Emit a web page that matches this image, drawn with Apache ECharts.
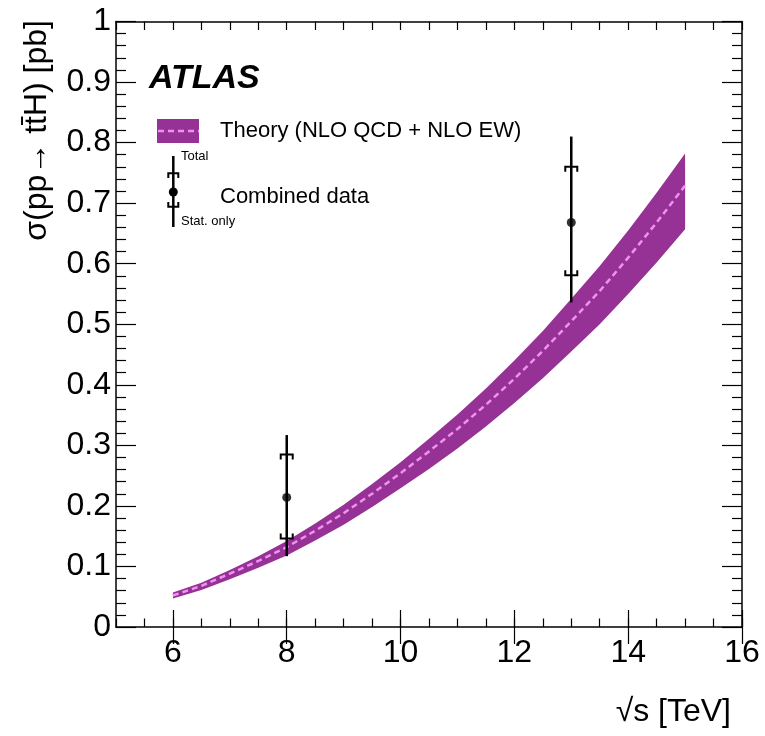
<!DOCTYPE html>
<html>
<head>
<meta charset="utf-8">
<script src="https://cdn.jsdelivr.net/npm/echarts@6/dist/echarts.min.js"></script>
<style>
html,body{margin:0;padding:0;background:#fff;}
#chart{width:765px;height:736px;}
</style>
</head>
<body>
<div id="chart"></div>
<script>
// ---- data ----
const energies       = [6, 6.5, 7, 7.5, 8, 8.5, 9, 9.5, 10, 10.5, 11, 11.5, 12, 12.5, 13, 13.5, 14, 14.5, 15];
const theoryCentral  = [0.052, 0.068, 0.088, 0.109, 0.132, 0.159, 0.188, 0.220, 0.254, 0.290, 0.327, 0.367, 0.410, 0.456, 0.505, 0.555, 0.610, 0.668, 0.729];
const theoryUpper    = [0.057, 0.073, 0.094, 0.117, 0.142, 0.171, 0.202, 0.236, 0.272, 0.311, 0.351, 0.394, 0.440, 0.489, 0.542, 0.596, 0.655, 0.717, 0.782];
const theoryLower    = [0.047, 0.061, 0.079, 0.098, 0.118, 0.143, 0.169, 0.198, 0.229, 0.261, 0.295, 0.331, 0.370, 0.411, 0.455, 0.500, 0.550, 0.602, 0.657];

const dataSqrtS = [8, 13];
const dataXsec  = [0.214, 0.668];
const totalHigh = [0.317, 0.810];
const totalLow  = [0.117, 0.536];
const statHigh  = [0.285, 0.760];
const statLow   = [0.146, 0.581];

const xTickLabels = [6, 8, 10, 12, 14, 16];

// ---- styles ----
const FONT = '"Liberation Sans", Arial, Helvetica, sans-serif';
const PURPLE = '#963296';
const PINK = '#f290f2';

const chart = echarts.init(document.getElementById('chart'), null, {renderer: 'canvas'});

function xAxisBase(pos) {
  return {
    type: 'value', min: 5, max: 16, position: pos,
    splitLine: {show: false},
    axisLine: {show: true, onZero: false, lineStyle: {color: '#000', width: 1.5}},
  };
}
function yAxisBase(pos) {
  return {
    type: 'value', min: 0, max: 1, interval: 0.1, position: pos,
    splitLine: {show: false},
    axisLine: {show: true, onZero: false, lineStyle: {color: '#000', width: 1.5}},
    axisTick: {show: true, inside: true, length: 20, lineStyle: {color: '#000', width: 1.2}},
    minorTick: {show: true, splitNumber: 5, length: 10, lineStyle: {color: '#000', width: 1.2}},
  };
}

const option = {
  animation: false,
  backgroundColor: '#fff',
  grid: {left: 116, right: 23, top: 21.5, bottom: 109, containLabel: false},
  xAxis: [
    Object.assign(xAxisBase('bottom'), {
      interval: 0.5,
      axisTick: {show: true, inside: true, length: 8.5, lineStyle: {color: '#000', width: 1.2}},
      axisLabel: {show: false}
    }),
    Object.assign(xAxisBase('bottom'), {
      axisLine: {show: false},
      axisTick: {show: true, inside: true, length: 17, customValues: xTickLabels, lineStyle: {color: '#000', width: 1.2}},
      axisLabel: {show: true, customValues: xTickLabels, color: '#000', fontSize: 32, fontFamily: FONT, margin: 10}
    }),
    Object.assign(xAxisBase('top'), {
      interval: 0.5,
      axisTick: {show: true, inside: true, length: 8.5, lineStyle: {color: '#000', width: 1.2}},
      axisLabel: {show: false}
    }),
    Object.assign(xAxisBase('top'), {
      axisLine: {show: false},
      axisTick: {show: true, inside: true, length: 17, customValues: xTickLabels, lineStyle: {color: '#000', width: 1.2}},
      axisLabel: {show: false}
    })
  ],
  yAxis: [
    Object.assign(yAxisBase('left'), {
      axisLabel: {show: true, color: '#000', fontSize: 32, fontFamily: FONT, margin: 5}
    }),
    Object.assign(yAxisBase('right'), {
      axisLabel: {show: false}
    })
  ],
  series: [
    {
      name: 'band', type: 'custom', xAxisIndex: 0, yAxisIndex: 0, z: 1,
      data: [[energies[0], theoryCentral[0]]],
      renderItem: function (params, api) {
        const pts = [];
        for (let i = 0; i < energies.length; i++) pts.push(api.coord([energies[i], theoryUpper[i]]));
        for (let i = energies.length - 1; i >= 0; i--) pts.push(api.coord([energies[i], theoryLower[i]]));
        return {type: 'polygon', shape: {points: pts}, style: {fill: PURPLE, stroke: null}};
      }
    },
    {
      name: 'central', type: 'line', xAxisIndex: 0, yAxisIndex: 0, z: 2,
      showSymbol: false, symbol: 'none',
      data: energies.map((e, i) => [e, theoryCentral[i]]),
      lineStyle: {color: PINK, width: 2.5, type: [6, 4]}
    },
    {
      name: 'errors', type: 'custom', xAxisIndex: 0, yAxisIndex: 0, z: 3,
      data: dataSqrtS.map((x, i) => [x, dataXsec[i], totalHigh[i], totalLow[i], statHigh[i], statLow[i]]),
      encode: {x: 0, y: [1, 2, 3, 4, 5]},
      renderItem: function (params, api) {
        const x = api.value(0);
        const th = api.coord([x, api.value(2)]);
        const tl = api.coord([x, api.value(3)]);
        const sh = api.coord([x, api.value(4)]);
        const sl = api.coord([x, api.value(5)]);
        const w = 6, leg = 5;
        const st = {stroke: '#000', lineWidth: 2.5, fill: null};
        const cst = {stroke: '#000', lineWidth: 2, fill: null};
        return {
          type: 'group',
          children: [
            {type: 'line', shape: {x1: th[0], y1: th[1], x2: tl[0], y2: tl[1]}, style: st},
            {type: 'polyline', shape: {points: [[sh[0] - w, sh[1] + leg], [sh[0] - w, sh[1]], [sh[0] + w, sh[1]], [sh[0] + w, sh[1] + leg]]}, style: cst},
            {type: 'polyline', shape: {points: [[sl[0] - w, sl[1] - leg], [sl[0] - w, sl[1]], [sl[0] + w, sl[1]], [sl[0] + w, sl[1] - leg]]}, style: cst}
          ]
        };
      }
    },
    {
      name: 'points', type: 'scatter', xAxisIndex: 0, yAxisIndex: 0, z: 4,
      symbol: 'circle', symbolSize: 9,
      itemStyle: {color: '#000'},
      data: dataSqrtS.map((x, i) => [x, dataXsec[i]])
    }
  ],
  graphic: [
    {type: 'text', x: 149, y: 79, style: {text: 'ATLAS', font: 'italic bold 34px ' + FONT, fill: '#000', verticalAlign: 'middle', align: 'left'}},
    {type: 'rect', shape: {x: 157, y: 119, width: 42, height: 24}, style: {fill: PURPLE}},
    {type: 'line', shape: {x1: 158, y1: 131, x2: 199, y2: 131}, style: {stroke: PINK, lineWidth: 2.5, lineDash: [6, 4]}},
    {type: 'text', x: 220, y: 131, style: {text: 'Theory (NLO QCD + NLO EW)', font: '22px ' + FONT, fill: '#000', verticalAlign: 'middle', align: 'left'}},
    {type: 'line', shape: {x1: 173.3, y1: 156, x2: 173.3, y2: 227}, style: {stroke: '#000', lineWidth: 2.5}},
    {type: 'polyline', shape: {points: [[168.3, 178], [168.3, 173.3], [178.3, 173.3], [178.3, 178]]}, style: {stroke: '#000', lineWidth: 2, fill: null}},
    {type: 'polyline', shape: {points: [[168.3, 202], [168.3, 206.7], [178.3, 206.7], [178.3, 202]]}, style: {stroke: '#000', lineWidth: 2, fill: null}},
    {type: 'circle', shape: {cx: 173.3, cy: 192, r: 4.5}, style: {fill: '#000'}},
    {type: 'text', x: 181, y: 156, style: {text: 'Total', font: '13px ' + FONT, fill: '#000', verticalAlign: 'middle', align: 'left'}},
    {type: 'text', x: 181, y: 221, style: {text: 'Stat. only', font: '13px ' + FONT, fill: '#000', verticalAlign: 'middle', align: 'left'}},
    {type: 'text', x: 220, y: 197, style: {text: 'Combined data', font: '22px ' + FONT, fill: '#000', verticalAlign: 'middle', align: 'left'}},
    {type: 'text', x: 37, y: 20, rotation: Math.PI / 2, style: {text: 'σ(pp→ tt\u0304H) [pb]', font: '32px ' + FONT, fill: '#000', verticalAlign: 'middle', align: 'right'}},
    {type: 'text', x: 731, y: 712, style: {text: '√s [TeV]', font: '32px ' + FONT, fill: '#000', verticalAlign: 'middle', align: 'right'}}
  ]
};
chart.setOption(option);
</script>
</body>
</html>
